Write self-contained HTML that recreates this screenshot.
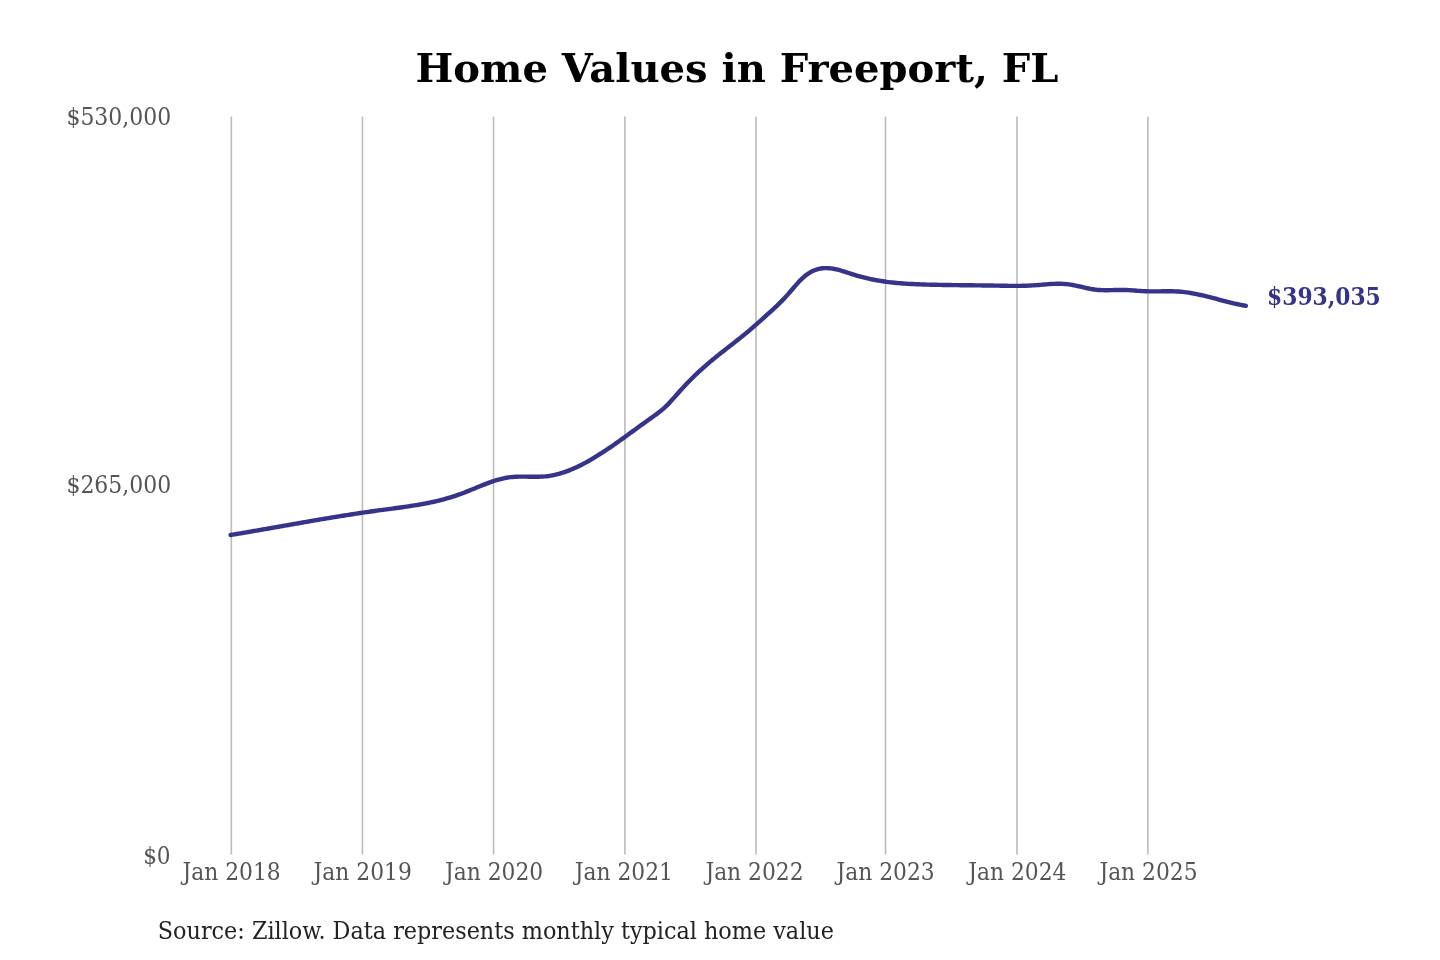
<!DOCTYPE html>
<html><head><meta charset="utf-8"><title>Home Values in Freeport, FL</title>
<style>
html,body{margin:0;padding:0;background:#fff;}
body{width:1440px;height:960px;overflow:hidden;position:relative;}
svg{position:absolute;left:0;top:0;will-change:transform;}
.tk{font-family:"DejaVu Serif Condensed","DejaVu Serif","Liberation Serif",serif;font-stretch:condensed;font-size:24px;fill:#555555;}
.ttl{font-family:"DejaVu Serif","Liberation Serif",serif;font-weight:bold;font-size:39.3px;fill:#000;}
.ann{font-family:"DejaVu Serif Condensed","DejaVu Serif","Liberation Serif",serif;font-stretch:condensed;font-weight:bold;font-size:23.5px;fill:#36338a;}
.src{font-family:"DejaVu Serif Condensed","DejaVu Serif","Liberation Serif",serif;font-stretch:condensed;font-size:24px;fill:#222;}
</style></head>
<body>
<svg width="1440" height="960" viewBox="0 0 1440 960">
<rect width="1440" height="960" fill="#fff"/>
<text x="415.5" y="81.8" class="ttl" textLength="642.9" lengthAdjust="spacingAndGlyphs">Home Values in Freeport, FL</text>
<line x1="231.35" y1="116.5" x2="231.35" y2="854.5" stroke="#bcbcbc" stroke-width="1.6"/>
<line x1="362.46" y1="116.5" x2="362.46" y2="854.5" stroke="#bcbcbc" stroke-width="1.6"/>
<line x1="493.54" y1="116.5" x2="493.54" y2="854.5" stroke="#bcbcbc" stroke-width="1.6"/>
<line x1="624.9" y1="116.5" x2="624.9" y2="854.5" stroke="#bcbcbc" stroke-width="1.6"/>
<line x1="756.0" y1="116.5" x2="756.0" y2="854.5" stroke="#bcbcbc" stroke-width="1.6"/>
<line x1="885.5" y1="116.5" x2="885.5" y2="854.5" stroke="#bcbcbc" stroke-width="1.6"/>
<line x1="1017.0" y1="116.5" x2="1017.0" y2="854.5" stroke="#bcbcbc" stroke-width="1.6"/>
<line x1="1147.9" y1="116.5" x2="1147.9" y2="854.5" stroke="#bcbcbc" stroke-width="1.6"/>
<text x="171.3" y="124.8" text-anchor="end" class="tk" textLength="104.9" lengthAdjust="spacingAndGlyphs">$530,000</text>
<text x="171.3" y="492.8" text-anchor="end" class="tk" textLength="104.9" lengthAdjust="spacingAndGlyphs">$265,000</text>
<text x="170.6" y="863.8" text-anchor="end" class="tk">$0</text>
<text x="231.6" y="879.8" text-anchor="middle" class="tk" textLength="98.2" lengthAdjust="spacingAndGlyphs">Jan 2018</text>
<text x="362.7" y="879.8" text-anchor="middle" class="tk" textLength="98.2" lengthAdjust="spacingAndGlyphs">Jan 2019</text>
<text x="494.1" y="879.8" text-anchor="middle" class="tk" textLength="98.2" lengthAdjust="spacingAndGlyphs">Jan 2020</text>
<text x="623.8" y="879.8" text-anchor="middle" class="tk" textLength="98.2" lengthAdjust="spacingAndGlyphs">Jan 2021</text>
<text x="754.5" y="879.8" text-anchor="middle" class="tk" textLength="98.2" lengthAdjust="spacingAndGlyphs">Jan 2022</text>
<text x="885.6" y="879.8" text-anchor="middle" class="tk" textLength="98.2" lengthAdjust="spacingAndGlyphs">Jan 2023</text>
<text x="1017.3" y="879.8" text-anchor="middle" class="tk" textLength="98.2" lengthAdjust="spacingAndGlyphs">Jan 2024</text>
<text x="1148.5" y="879.8" text-anchor="middle" class="tk" textLength="98.2" lengthAdjust="spacingAndGlyphs">Jan 2025</text>
<path d="M230.60,535.00 L232.60,534.67 L234.60,534.33 L236.60,534.00 L238.60,533.66 L240.60,533.33 L242.60,532.99 L244.60,532.65 L246.60,532.31 L248.60,531.96 L250.60,531.62 L252.60,531.28 L254.60,530.93 L256.60,530.58 L258.60,530.24 L260.60,529.89 L262.60,529.54 L264.60,529.19 L266.60,528.84 L268.60,528.49 L270.60,528.14 L272.60,527.79 L274.60,527.43 L276.60,527.08 L278.60,526.73 L280.60,526.38 L282.60,526.02 L284.60,525.67 L286.60,525.32 L288.60,524.97 L290.60,524.62 L292.60,524.26 L294.60,523.91 L296.60,523.56 L298.60,523.21 L300.60,522.86 L302.60,522.51 L304.60,522.17 L306.60,521.82 L308.60,521.47 L310.60,521.13 L312.60,520.78 L314.60,520.44 L316.60,520.10 L318.60,519.76 L320.60,519.42 L322.60,519.08 L324.60,518.74 L326.60,518.40 L328.60,518.07 L330.60,517.74 L332.60,517.41 L334.60,517.08 L336.60,516.75 L338.60,516.43 L340.60,516.10 L342.60,515.78 L344.60,515.46 L346.60,515.14 L348.60,514.83 L350.60,514.52 L352.60,514.21 L354.60,513.90 L356.60,513.59 L358.60,513.29 L360.60,512.99 L362.60,512.69 L364.60,512.40 L366.60,512.11 L368.60,511.82 L370.60,511.53 L372.60,511.25 L374.60,510.97 L376.60,510.69 L378.60,510.42 L380.60,510.15 L382.60,509.88 L384.60,509.62 L386.60,509.35 L388.60,509.09 L390.60,508.83 L392.60,508.56 L394.60,508.29 L396.60,508.03 L398.60,507.75 L400.60,507.48 L402.60,507.20 L404.60,506.91 L406.60,506.62 L408.60,506.32 L410.60,506.02 L412.60,505.70 L414.60,505.38 L416.60,505.05 L418.60,504.71 L420.60,504.36 L422.60,503.99 L424.60,503.62 L426.60,503.23 L428.60,502.83 L430.60,502.41 L432.60,501.98 L434.60,501.53 L436.60,501.07 L438.60,500.59 L440.60,500.09 L442.60,499.57 L444.60,499.03 L446.60,498.48 L448.60,497.90 L450.60,497.30 L452.60,496.68 L454.60,496.04 L456.60,495.37 L458.60,494.68 L460.60,493.96 L462.60,493.22 L464.60,492.46 L466.60,491.67 L468.60,490.87 L470.60,490.06 L472.60,489.24 L474.60,488.42 L476.60,487.59 L478.60,486.77 L480.60,485.96 L482.60,485.16 L484.60,484.37 L486.60,483.60 L488.60,482.85 L490.60,482.13 L492.60,481.44 L494.60,480.78 L496.60,480.16 L498.60,479.57 L500.60,479.04 L502.60,478.55 L504.60,478.12 L506.60,477.74 L508.60,477.42 L510.60,477.16 L512.60,476.97 L514.60,476.82 L516.60,476.72 L518.60,476.66 L520.60,476.62 L522.60,476.62 L524.60,476.63 L526.60,476.66 L528.60,476.70 L530.60,476.73 L532.60,476.76 L534.60,476.77 L536.60,476.77 L538.60,476.73 L540.60,476.67 L542.60,476.57 L544.60,476.42 L546.60,476.22 L548.60,475.97 L550.60,475.66 L552.60,475.29 L554.60,474.88 L556.60,474.41 L558.60,473.89 L560.60,473.32 L562.60,472.71 L564.60,472.04 L566.60,471.34 L568.60,470.59 L570.60,469.79 L572.60,468.96 L574.60,468.09 L576.60,467.18 L578.60,466.23 L580.60,465.24 L582.60,464.22 L584.60,463.17 L586.60,462.09 L588.60,460.97 L590.60,459.83 L592.60,458.66 L594.60,457.46 L596.60,456.24 L598.60,454.99 L600.60,453.72 L602.60,452.43 L604.60,451.11 L606.60,449.78 L608.60,448.44 L610.60,447.07 L612.60,445.69 L614.60,444.30 L616.60,442.90 L618.60,441.48 L620.60,440.06 L622.60,438.62 L624.60,437.18 L626.60,435.74 L628.60,434.29 L630.60,432.83 L632.60,431.38 L634.60,429.92 L636.60,428.47 L638.60,427.02 L640.60,425.57 L642.60,424.12 L644.60,422.69 L646.60,421.26 L648.60,419.83 L650.60,418.42 L652.60,417.01 L654.60,415.58 L656.60,414.12 L658.60,412.60 L660.60,411.02 L662.60,409.35 L664.60,407.58 L666.60,405.68 L668.60,403.66 L670.60,401.54 L672.60,399.34 L674.60,397.09 L676.60,394.82 L678.60,392.55 L680.60,390.32 L682.60,388.12 L684.60,385.96 L686.60,383.85 L688.60,381.77 L690.60,379.73 L692.60,377.73 L694.60,375.77 L696.60,373.85 L698.60,371.97 L700.60,370.12 L702.60,368.31 L704.60,366.54 L706.60,364.80 L708.60,363.09 L710.60,361.41 L712.60,359.75 L714.60,358.11 L716.60,356.50 L718.60,354.90 L720.60,353.31 L722.60,351.74 L724.60,350.17 L726.60,348.61 L728.60,347.06 L730.60,345.50 L732.60,343.94 L734.60,342.38 L736.60,340.81 L738.60,339.23 L740.60,337.64 L742.60,336.03 L744.60,334.40 L746.60,332.75 L748.60,331.07 L750.60,329.37 L752.60,327.65 L754.60,325.91 L756.60,324.15 L758.60,322.38 L760.60,320.60 L762.60,318.81 L764.60,317.01 L766.60,315.21 L768.60,313.41 L770.60,311.61 L772.60,309.78 L774.60,307.94 L776.60,306.06 L778.60,304.13 L780.60,302.16 L782.60,300.13 L784.60,298.04 L786.60,295.87 L788.60,293.62 L790.60,291.31 L792.60,288.96 L794.60,286.62 L796.60,284.32 L798.60,282.11 L800.60,280.00 L802.60,278.05 L804.60,276.28 L806.60,274.71 L808.60,273.32 L810.60,272.11 L812.60,271.08 L814.60,270.21 L816.60,269.51 L818.60,268.95 L820.60,268.54 L822.60,268.28 L824.60,268.13 L826.60,268.11 L828.60,268.20 L830.60,268.39 L832.60,268.67 L834.60,269.03 L836.60,269.46 L838.60,269.95 L840.60,270.49 L842.60,271.08 L844.60,271.69 L846.60,272.33 L848.60,272.99 L850.60,273.64 L852.60,274.29 L854.60,274.93 L856.60,275.53 L858.60,276.12 L860.60,276.67 L862.60,277.20 L864.60,277.71 L866.60,278.19 L868.60,278.65 L870.60,279.08 L872.60,279.50 L874.60,279.89 L876.60,280.26 L878.60,280.60 L880.60,280.93 L882.60,281.24 L884.60,281.54 L886.60,281.81 L888.60,282.07 L890.60,282.31 L892.60,282.53 L894.60,282.74 L896.60,282.94 L898.60,283.12 L900.60,283.29 L902.60,283.44 L904.60,283.59 L906.60,283.72 L908.60,283.84 L910.60,283.96 L912.60,284.06 L914.60,284.16 L916.60,284.24 L918.60,284.32 L920.60,284.40 L922.60,284.46 L924.60,284.53 L926.60,284.58 L928.60,284.64 L930.60,284.69 L932.60,284.73 L934.60,284.78 L936.60,284.82 L938.60,284.86 L940.60,284.90 L942.60,284.93 L944.60,284.97 L946.60,285.00 L948.60,285.03 L950.60,285.06 L952.60,285.09 L954.60,285.11 L956.60,285.14 L958.60,285.16 L960.60,285.19 L962.60,285.21 L964.60,285.23 L966.60,285.25 L968.60,285.27 L970.60,285.30 L972.60,285.32 L974.60,285.34 L976.60,285.36 L978.60,285.39 L980.60,285.41 L982.60,285.43 L984.60,285.46 L986.60,285.49 L988.60,285.51 L990.60,285.54 L992.60,285.57 L994.60,285.60 L996.60,285.64 L998.60,285.67 L1000.60,285.71 L1002.60,285.74 L1004.60,285.77 L1006.60,285.80 L1008.60,285.83 L1010.60,285.85 L1012.60,285.86 L1014.60,285.86 L1016.60,285.86 L1018.60,285.85 L1020.60,285.83 L1022.60,285.79 L1024.60,285.75 L1026.60,285.69 L1028.60,285.61 L1030.60,285.52 L1032.60,285.42 L1034.60,285.29 L1036.60,285.15 L1038.60,285.00 L1040.60,284.83 L1042.60,284.66 L1044.60,284.49 L1046.60,284.33 L1048.60,284.17 L1050.60,284.04 L1052.60,283.92 L1054.60,283.83 L1056.60,283.77 L1058.60,283.75 L1060.60,283.77 L1062.60,283.84 L1064.60,283.95 L1066.60,284.13 L1068.60,284.37 L1070.60,284.66 L1072.60,285.01 L1074.60,285.39 L1076.60,285.81 L1078.60,286.25 L1080.60,286.71 L1082.60,287.17 L1084.60,287.62 L1086.60,288.07 L1088.60,288.49 L1090.60,288.88 L1092.60,289.22 L1094.60,289.52 L1096.60,289.76 L1098.60,289.94 L1100.60,290.07 L1102.60,290.15 L1104.60,290.20 L1106.60,290.21 L1108.60,290.19 L1110.60,290.16 L1112.60,290.12 L1114.60,290.07 L1116.60,290.03 L1118.60,289.99 L1120.60,289.97 L1122.60,289.97 L1124.60,290.01 L1126.60,290.07 L1128.60,290.16 L1130.60,290.28 L1132.60,290.41 L1134.60,290.55 L1136.60,290.69 L1138.60,290.83 L1140.60,290.97 L1142.60,291.10 L1144.60,291.21 L1146.60,291.30 L1148.60,291.37 L1150.60,291.40 L1152.60,291.42 L1154.60,291.42 L1156.60,291.40 L1158.60,291.38 L1160.60,291.35 L1162.60,291.32 L1164.60,291.30 L1166.60,291.28 L1168.60,291.27 L1170.60,291.28 L1172.60,291.31 L1174.60,291.37 L1176.60,291.45 L1178.60,291.56 L1180.60,291.71 L1182.60,291.90 L1184.60,292.13 L1186.60,292.39 L1188.60,292.68 L1190.60,293.00 L1192.60,293.35 L1194.60,293.73 L1196.60,294.12 L1198.60,294.55 L1200.60,294.99 L1202.60,295.45 L1204.60,295.92 L1206.60,296.41 L1208.60,296.91 L1210.60,297.42 L1212.60,297.94 L1214.60,298.46 L1216.60,298.99 L1218.60,299.52 L1220.60,300.04 L1222.60,300.57 L1224.60,301.09 L1226.60,301.60 L1228.60,302.11 L1230.60,302.60 L1232.60,303.08 L1234.60,303.55 L1236.60,304.00 L1238.60,304.43 L1240.60,304.84 L1242.60,305.23 L1244.60,305.59 L1245.80,305.79" fill="none" stroke="#36338a" stroke-width="4.4" stroke-linecap="round" stroke-linejoin="round"/>
<text x="1267.1" y="305" class="ann" textLength="113.7" lengthAdjust="spacingAndGlyphs">$393,035</text>
<text x="157.8" y="938.7" class="src" textLength="676.1" lengthAdjust="spacingAndGlyphs">Source: Zillow. Data represents monthly typical home value</text>
</svg>
</body></html>
